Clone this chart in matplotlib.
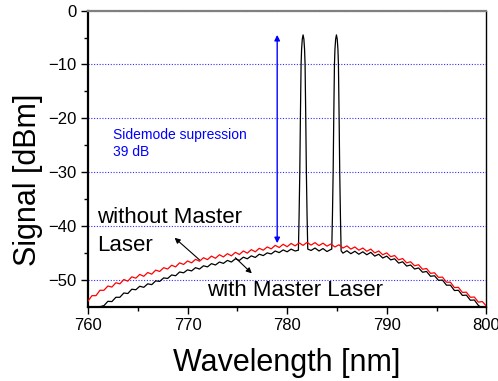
import numpy as np
import matplotlib
matplotlib.use("Agg")
import matplotlib.pyplot as plt

plt.rcParams['font.family'] = ['Liberation Sans', 'DejaVu Sans']

# ---------------- data ----------------
wavelength = np.linspace(760.0, 800.0, 101)   # sampling grid, 0.4 nm step

without_master = [
    -53.95, -52.95, -52.95, -51.95, -51.95, -51.15, -51.35, -50.55, -50.75, -49.95,
    -50.25, -49.45, -49.70, -49.00, -49.35, -48.65, -48.95, -48.20, -48.45, -47.75,
    -48.00, -47.30, -47.60, -46.85, -47.15, -46.50, -46.85, -46.20, -46.55, -45.90,
    -46.25, -45.60, -46.00, -45.35, -45.75, -45.15, -45.55, -44.90, -45.30, -44.65,
    -45.05, -44.40, -44.80, -44.15, -44.50, -43.90, -44.25, -43.60, -44.00, -43.40,
    -43.85, -43.25, -43.70, -43.15, -43.60, -43.05, -43.55, -43.10, -43.65, -43.20,
    -43.75, -43.35, -43.90, -43.50, -44.10, -43.70, -44.30, -43.90, -44.50, -44.10,
    -44.70, -44.30, -45.00, -44.65, -45.35, -45.00, -45.70, -45.50, -46.30, -46.05,
    -46.85, -46.65, -47.40, -47.20, -48.05, -47.90, -48.80, -48.70, -49.55, -49.50,
    -50.45, -50.45, -51.45, -51.40, -52.35, -52.30, -53.25, -53.20, -54.15, -54.05,
    -54.85,
]

# with master laser, background (None where the lasing modes are)
with_master = [
    -57.20, -56.20, -56.00, -55.00, -54.80, -54.00, -54.05, -53.25, -53.25, -52.45,
    -52.55, -51.75, -51.85, -51.20, -51.40, -50.75, -50.90, -50.20, -50.30, -49.65,
    -49.75, -49.10, -49.25, -48.55, -48.70, -48.15, -48.35, -47.75, -48.00, -47.40,
    -47.60, -47.00, -47.25, -46.70, -46.95, -46.40, -46.70, -46.10, -46.40, -45.80,
    -46.10, -45.55, -45.85, -45.25, -45.50, -45.00, -45.20, -44.65, -44.95, -44.45,
    -44.80, -44.30, -44.65, None, None, None, -44.55, -44.10, -44.65, -44.20,
    -44.75, -44.35, None, None, -45.05, -44.60, -45.15, -44.70, -45.25, -44.80,
    -45.35, -44.90, -45.60, -45.25, -45.95, -45.60, -46.30, -46.10, -46.90, -46.65,
    -47.45, -47.25, -48.00, -47.80, -48.60, -48.45, -49.35, -49.25, -50.10, -50.05,
    -51.00, -51.00, -52.00, -51.95, -52.90, -52.85, -53.80, -53.75, -54.75, -55.30,
    -55.80,
]

# lasing modes with master laser
mode1_x = [781.13, 781.20, 781.27, 781.33, 781.40, 781.45, 781.52, 781.60,
           781.68, 781.75, 781.80, 781.87, 781.93, 782.00, 782.07]
mode1_y = [-44.5, -38.0, -30.0, -20.0, -10.0, -7.2, -5.3, -4.5,
           -5.3, -7.2, -10.0, -20.0, -30.0, -38.0, -44.3]
mode2_x = [784.48, 784.55, 784.62, 784.68, 784.75, 784.80, 784.87, 784.95,
           785.03, 785.10, 785.15, 785.22, 785.28, 785.35, 785.42]
mode2_y = [-44.3, -38.0, -30.0, -20.0, -10.0, -7.2, -5.3, -4.5,
           -5.3, -7.2, -10.0, -20.0, -30.0, -38.0, -44.6]

xticks = [760, 770, 780, 790, 800]
yticks = [0, -10, -20, -30, -40, -50]

# suppression arrow (wavelength, bottom, top)
arrow_wl = 779.0
arrow_lo, arrow_hi = -43.2, -4.5

# ---------------- build black trace ----------------
pts = [(x, y) for x, y in zip(wavelength, with_master) if y is not None]
pts += list(zip(mode1_x, mode1_y)) + list(zip(mode2_x, mode2_y))
pts.sort(key=lambda p: p[0])
bx = [p[0] for p in pts]
by = [p[1] for p in pts]

# ---------------- figure ----------------
fig = plt.figure(figsize=(4.98, 3.81), dpi=100)
ax = fig.add_axes([0.1767, 0.195, 0.7998, 0.777])

ax.plot(bx, by, color='black', lw=0.9, zorder=3)
ax.plot(wavelength, without_master, color='#ff0000', lw=0.9, zorder=4)

ax.set_xlim(760, 800)
ax.set_ylim(-55, 0)
ax.set_xticks(xticks)
ax.set_yticks(yticks)
ax.set_xticks([765, 775, 785, 795], minor=True)
ax.set_yticks([-5, -15, -25, -35, -45], minor=True)

ax.yaxis.grid(True, which='major', color='#3030ff', lw=0.8, linestyle=(0, (1, 1.5)))
ax.set_axisbelow(True)

ax.tick_params(which='major', direction='out', length=5, width=1.0,
               labelsize=12, pad=3, top=False, right=False)
ax.tick_params(which='minor', direction='out', length=3, width=1.0,
               top=False, right=False)

for s in ['left', 'bottom']:
    ax.spines[s].set_linewidth(1.6)
    ax.spines[s].set_color('black')
ax.spines['top'].set_color('#808080')
ax.spines['top'].set_linewidth(1.6)
ax.spines['right'].set_color('black')
ax.spines['right'].set_linewidth(1.0)

ax.set_xlabel('Wavelength [nm]', fontsize=22)
ax.set_ylabel('Signal [dBm]', fontsize=22)
ax.xaxis.set_label_coords(0.5, -0.139)
ax.yaxis.set_label_coords(-0.113, 0.43)

# suppression arrow and text
ax.annotate('', xy=(arrow_wl, arrow_hi), xytext=(arrow_wl, arrow_lo),
            arrowprops=dict(arrowstyle='<|-|>', color='#0000ff', lw=1.0,
                            mutation_scale=8, shrinkA=0, shrinkB=0), zorder=5)
ax.text(762.5, -23.9, 'Sidemode supression', color='#0000ff', fontsize=10,
        va='baseline', ha='left')
ax.text(762.5, -27.0, '39 dB', color='#0000ff', fontsize=10,
        va='baseline', ha='left')

# curve labels
ax.text(760.9, -39.5, 'without Master', fontsize=16, va='baseline', ha='left')
ax.text(760.9, -44.6, 'Laser', fontsize=16, va='baseline', ha='left')
ax.text(772.0, -53.1, 'with Master Laser', fontsize=16, va='baseline', ha='left')

ax.annotate('', xy=(768.7, -42.2), xytext=(771.2, -46.3),
            arrowprops=dict(arrowstyle='-|>', color='black', lw=0.8,
                            mutation_scale=8, shrinkA=0, shrinkB=0), zorder=5)
ax.annotate('', xy=(776.45, -48.8), xytext=(774.8, -45.9),
            arrowprops=dict(arrowstyle='-|>', color='black', lw=0.8,
                            mutation_scale=8, shrinkA=0, shrinkB=0), zorder=5)

fig.savefig('out.png', dpi=100)
